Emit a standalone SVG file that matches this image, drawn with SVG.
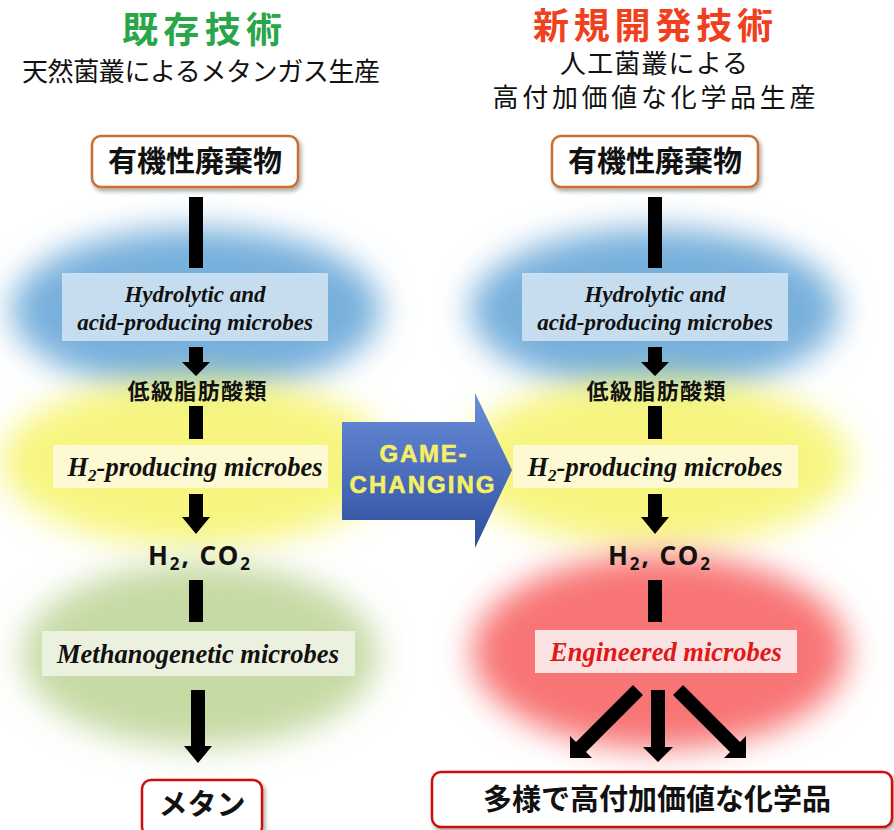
<svg xmlns="http://www.w3.org/2000/svg" width="894" height="830" viewBox="0 0 894 830">
<defs>
<filter id="blur" x="-30%" y="-30%" width="160%" height="160%"><feGaussianBlur stdDeviation="16"/></filter>
<filter id="shadow" x="-10%" y="-10%" width="125%" height="135%"><feDropShadow dx="2" dy="3" stdDeviation="2" flood-color="#000" flood-opacity="0.35"/></filter>
<linearGradient id="gcg" x1="0" y1="0" x2="0" y2="1"><stop offset="0" stop-color="#6b8fdb"/><stop offset="1" stop-color="#2d4e9e"/></linearGradient>
<style>
.jp{font-family:"Noto Sans CJK JP","Noto Sans",sans-serif;}
.hd{font-family:"Liberation Sans","Noto Sans CJK JP",sans-serif;}
.title{font-size:36px;font-weight:bold;}
.sub{font-size:26px;fill:#111;}
.box{fill:#fff;stroke-width:2.5;}
.boxo{stroke:#c87030;}
.boxr{stroke:#d01010;}
.btxt{font-size:29px;font-weight:bold;fill:#111;}
.mic{font-family:"Liberation Serif","Times New Roman",serif;font-style:italic;font-weight:bold;fill:#111;}
.mid{font-size:22px;font-weight:bold;fill:#111;}
.gas{font-family:"Noto Sans","Open Sans",sans-serif;font-size:26px;font-weight:bold;fill:#111;}
.gc{font-family:"Liberation Sans",Arial,sans-serif;font-weight:bold;font-size:24px;fill:#f5ef66;stroke:#f5ef66;stroke-width:0.6;}
.bar{fill:#000;}
</style>
</defs>
<rect width="894" height="830" fill="#fff"/>

<g id="clouds">
<ellipse cx="196" cy="310" rx="185" ry="82" fill="#78b0dc" filter="url(#blur)"/>
<ellipse cx="655" cy="310" rx="185" ry="82" fill="#78b0dc" filter="url(#blur)"/>
<ellipse cx="196" cy="462" rx="195" ry="84" fill="#f6f46a" opacity="0.85" filter="url(#blur)"/>
<ellipse cx="655" cy="462" rx="195" ry="84" fill="#f6f46a" opacity="0.85" filter="url(#blur)"/>
<ellipse cx="200" cy="655" rx="178" ry="92" fill="#c6daa4" filter="url(#blur)"/>
<ellipse cx="660" cy="652" rx="188" ry="97" fill="#f87474" filter="url(#blur)"/>
</g>

<g id="titles" class="hd">
<text x="202" y="43" class="title" fill="#2aa64a" text-anchor="middle" textLength="160">既存技術</text>
<text x="201" y="81" class="sub" font-size="25.5" text-anchor="middle" textLength="358">天然菌叢によるメタンガス生産</text>
<text x="653" y="39" class="title" font-size="35" fill="#f0401e" text-anchor="middle" textLength="240">新規開発技術</text>
<text x="654" y="73" class="sub" text-anchor="middle" textLength="188">人工菌叢による</text>
<text x="654" y="107" class="sub" font-size="27.5" text-anchor="middle" textLength="323">高付加価値な化学品生産</text>
</g>

<g id="connectors">
<rect class="bar" x="189" y="197" width="14" height="71"/>
<path class="bar" d="M189,347 H203 V362 H210 L196,376 L182,362 H189 Z"/>
<rect class="bar" x="189" y="406" width="14" height="33"/>
<path class="bar" d="M189,494 H203 V517 H210 L196,534 L182,517 H189 Z"/>
<rect class="bar" x="189" y="580" width="14" height="42"/>
<path class="bar" d="M191,690 H205 V746 H212 L198,763 L184,746 H191 Z"/>

<rect class="bar" x="648" y="197" width="14" height="71"/>
<path class="bar" d="M648,347 H662 V362 H669 L655,376 L641,362 H648 Z"/>
<rect class="bar" x="648" y="406" width="14" height="33"/>
<path class="bar" d="M648,494 H662 V517 H669 L655,534 L641,517 H648 Z"/>
<rect class="bar" x="648" y="580" width="14" height="42"/>
<path class="bar" d="M651,690 H665 V747 H673 L658,762 L643,747 H651 Z"/>
<path class="bar" d="M570,758 L570,736 L576,742 L633,685 L643,695 L586,752 L592,758 Z"/>
<path class="bar" d="M746,758 L746,736 L740,742 L683,685 L673,695 L730,752 L724,758 Z"/>
</g>

<g id="n-waste-left">
<rect class="box boxo" x="92" y="136" width="206" height="51" rx="9" filter="url(#shadow)"/>
<text x="195" y="172" class="jp btxt" text-anchor="middle">有機性廃棄物</text>
</g>
<g id="n-waste-right">
<rect class="box boxo" x="552" y="136" width="206" height="51" rx="9" filter="url(#shadow)"/>
<text x="655" y="172" class="jp btxt" text-anchor="middle">有機性廃棄物</text>
</g>

<g id="n-hydro-left">
<rect x="62" y="273" width="266" height="68" fill="#d4e5f3" opacity="0.85"/>
<text x="195" y="302" class="mic" font-size="23" text-anchor="middle">Hydrolytic and</text>
<text x="195" y="330" class="mic" font-size="23" text-anchor="middle">acid-producing microbes</text>
</g>
<g id="n-hydro-right">
<rect x="522" y="273" width="266" height="68" fill="#d4e5f3" opacity="0.85"/>
<text x="655" y="302" class="mic" font-size="23" text-anchor="middle">Hydrolytic and</text>
<text x="655" y="330" class="mic" font-size="23" text-anchor="middle">acid-producing microbes</text>
</g>

<g id="n-vfa-left"><text x="197" y="399" class="jp mid" text-anchor="middle" textLength="139">低級脂肪酸類</text></g>
<g id="n-vfa-right"><text x="656" y="399" class="jp mid" text-anchor="middle" textLength="139">低級脂肪酸類</text></g>

<g id="n-h2prod-left">
<rect x="53" y="445" width="275" height="43" fill="#fdfbdc" opacity="0.9"/>
<text x="195" y="476" class="mic" font-size="26.5" text-anchor="middle">H<tspan font-size="17" dy="5">2</tspan><tspan dy="-5">-producing microbes</tspan></text>
</g>
<g id="n-h2prod-right">
<rect x="513" y="445" width="285" height="43" fill="#fdfbdc" opacity="0.9"/>
<text x="655" y="476" class="mic" font-size="26.5" text-anchor="middle">H<tspan font-size="17" dy="5">2</tspan><tspan dy="-5">-producing microbes</tspan></text>
</g>

<g id="n-gas-left"><text x="199" y="565" class="gas" text-anchor="middle" textLength="102">H<tspan font-size="17" dy="5">2</tspan><tspan dy="-5">, CO</tspan><tspan font-size="17" dy="5">2</tspan></text></g>
<g id="n-gas-right"><text x="659" y="565" class="gas" text-anchor="middle" textLength="102">H<tspan font-size="17" dy="5">2</tspan><tspan dy="-5">, CO</tspan><tspan font-size="17" dy="5">2</tspan></text></g>

<g id="n-methano">
<rect x="42" y="631" width="313" height="45" fill="#eef3e4" opacity="0.9"/>
<text x="198" y="663" class="mic" font-size="26.5" text-anchor="middle">Methanogenetic microbes</text>
</g>
<g id="n-engineered">
<rect x="535" y="630" width="262" height="43" fill="#fbe9e9" opacity="0.95"/>
<text x="666" y="661" class="mic" font-size="26.5" style="fill:#e01818" text-anchor="middle">Engineered microbes</text>
</g>

<g id="n-methane">
<rect class="box boxr" x="142" y="780" width="120" height="56" rx="9" filter="url(#shadow)"/>
<text x="202" y="815" class="jp btxt" font-size="26" text-anchor="middle">メタン</text>
</g>
<g id="n-chem">
<rect class="box boxr" x="432" y="772" width="460" height="55" rx="9" filter="url(#shadow)"/>
<text x="657" y="810" class="jp btxt" text-anchor="middle">多様で高付加価値な化学品</text>
</g>

<g id="n-gamechanging">
<path d="M342,422 H475 V393 L512,470 L475,548 V520 H342 Z" fill="url(#gcg)"/>
<text x="423" y="462" class="gc" text-anchor="middle" textLength="87">GAME-</text>
<text x="422" y="493" class="gc" text-anchor="middle" textLength="145">CHANGING</text>
</g>
</svg>
